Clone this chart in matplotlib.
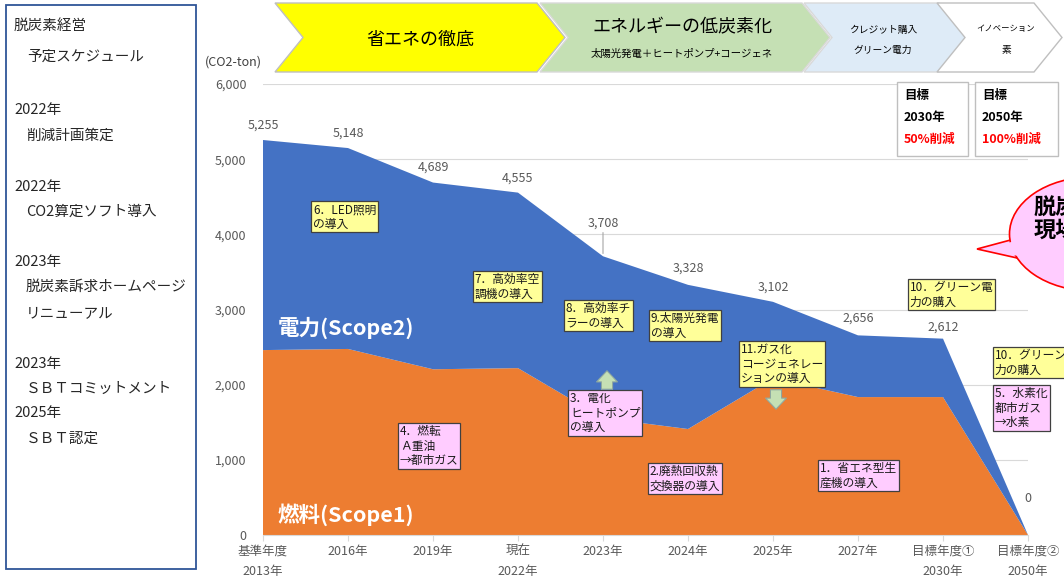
import numpy as np
import matplotlib.pyplot as plt
from matplotlib.patches import Polygon, Rectangle, Ellipse, FancyArrowPatch

plt.rcParams['font.family'] = ['Noto Sans CJK JP', 'DejaVu Sans']

# --- data (CO2-ton) ---
categories = ['基準年度\n2013年', '2016年', '2019年', '現在\n2022年', '2023年',
              '2024年', '2025年', '2027年', '目標年度①\n2030年', '目標年度②\n2050年']
totals = np.array([5255, 5148, 4689, 4555, 3708, 3328, 3102, 2656, 2612, 0])
scope1 = np.array([2460, 2475, 2205, 2220, 1555, 1410, 2085, 1835, 1835, 0])  # fuel
scope2 = totals - scope1  # electricity
label_dy_px = [15, 15, 15, 14, 33, 17, 15, 17, 12, 37]

schedule = [('脱炭素経営', 14, 26), ('予定スケジュール', 27, 57),
            ('2022年', 14, 110), ('削減計画策定', 26, 136),
            ('2022年', 14, 187), ('CO2算定ソフト導入', 26, 212),
            ('2023年', 14, 262), ('脱炭素訴求ホームページ', 26, 287),
            ('リニューアル', 26, 313),
            ('2023年', 14, 364), ('ＳＢＴコミットメント', 26, 389),
            ('2025年', 14, 413), ('ＳＢＴ認定', 26, 439)]

# measures: (text, x category, y value of top-left, colour)
YEL, PNK = '#FFFF99', '#FFCCFF'
measures = [('6．LED照明\nの導入', 0.59, 4415, YEL),
            ('7．高効率空\n調機の導入', 2.49, 3484, YEL),
            ('8．高効率チ\nラーの導入', 3.56, 3098, YEL),
            ('9.太陽光発電\nの導入', 4.56, 2965, YEL),
            ('11.ガス化\nコージェネレー\nションの導入', 5.62, 2553, YEL),
            ('10．グリーン電\n力の購入', 7.61, 3378, YEL),
            ('10．グリーン電\n力の購入', 8.61, 2473, YEL),
            ('3．電化\nヒートポンプ\nの導入', 3.61, 1902, PNK),
            ('4．燃転\nＡ重油\n→都市ガス', 1.61, 1463, PNK),
            ('2.廃熱回収熱\n交換器の導入', 4.55, 931, PNK),
            ('1．省エネ型生\n産機の導入', 6.55, 971, PNK),
            ('5．水素化\n都市ガス\n→水素', 8.61, 1968, PNK)]

W, H = 1064, 579
fig = plt.figure(figsize=(W / 100, H / 100), dpi=100)


def fx(x):
    return x / W


def fy(y):
    return 1 - y / H


# --- main chart ---
ax = fig.add_axes([fx(263), fy(535), fx(1028) - fx(263), fy(84) - fy(535)])
x = np.arange(len(categories))
ax.stackplot(x, scope1, scope2, colors=['#ED7D31', '#4472C4'], zorder=2)
ax.set_xlim(0, len(categories) - 1)
ax.set_ylim(0, 6000)
ax.set_yticks(np.arange(0, 6001, 1000))
ax.set_yticklabels([f'{v:,}' for v in range(0, 6001, 1000)])
ax.grid(axis='y', color='#D9D9D9', lw=0.8, zorder=0)
ax.set_xticks(x)
ax.set_xticklabels(categories, linespacing=1.75)
for s in ['top', 'right', 'left']:
    ax.spines[s].set_visible(False)
ax.spines['bottom'].set_color('#D9D9D9')
ax.tick_params(axis='y', length=0, labelsize=9, labelcolor='#595959', pad=12)
ax.tick_params(axis='x', length=4, color='#D9D9D9', labelsize=9,
               labelcolor='#595959', pad=3)

# data labels
for i, v in enumerate(totals):
    kw = {}
    if v == 3708:
        kw['arrowprops'] = dict(arrowstyle='-', color='#A6A6A6', lw=0.8,
                                shrinkA=0, shrinkB=2)
    ax.annotate(f'{v:,}', (i, v), xytext=(0, label_dy_px[i] * 0.72),
                textcoords='offset points', ha='center', va='center',
                fontsize=9, color='#595959', **kw)

fig.text(fx(262), fy(62), '(CO2-ton)', ha='right', va='center',
         fontsize=9, color='#404040')

ax.text(0.17, 2750, '電力(Scope2)', color='white', fontsize=15.5,
        fontweight='bold', va='center', zorder=4)
ax.text(0.17, 270, '燃料(Scope1)', color='white', fontsize=15.5,
        fontweight='bold', va='center', zorder=4)

for txt, mx, my, col in measures:
    ax.text(mx, my, txt, ha='left', va='top', fontsize=8.5, color='#1A1A1A',
            linespacing=1.15, zorder=5, clip_on=False,
            bbox=dict(boxstyle='square,pad=0.15', fc=col, ec='#404040', lw=0.9))

# block arrows
for y0, y1, xc in [(392, 368, 607), (387, 412, 776)]:
    fig.patches.append(FancyArrowPatch(
        (fx(xc), fy(y0)), (fx(xc), fy(y1)), transform=fig.transFigure,
        arrowstyle='simple,head_width=15,head_length=8,tail_width=8',
        fc='#C5E0B4', ec='#8FA8A0', lw=0.8, zorder=6, mutation_scale=1))

# --- left schedule panel ---
fig.patches.append(Rectangle((fx(6), fy(569)), fx(190), fy(5) - fy(569),
                             transform=fig.transFigure, fill=False,
                             ec='#2F5597', lw=1.3))
for txt, tx, ty in schedule:
    fig.text(fx(tx), fy(ty), txt, ha='left', va='center', fontsize=10.5,
             color='#262626')

# --- top banner chevrons ---
top, bot, mid, d = 3, 72, 37.5, 28
chevrons = [(275, 565, '#FFFF00', '#BFBFBF'), (540, 830, '#C5E0B4', '#D9D9D9'),
            (804, 967, '#DEEBF7', '#D9D9D9'), (937, 1062, '#FFFFFF', '#BFBFBF')]
for xl, xt, fc, ec in chevrons:
    pts = [(xl, top), (xt - d, top), (xt, mid), (xt - d, bot), (xl, bot), (xl + d, mid)]
    fig.patches.append(Polygon([(fx(a), fy(b)) for a, b in pts], closed=True,
                               transform=fig.transFigure, fc=fc, ec=ec, lw=1))
fig.text(fx(420), fy(40), '省エネの徹底', ha='center', va='center', fontsize=13)
fig.text(fx(682), fy(27), 'エネルギーの低炭素化', ha='center', va='center', fontsize=13)
fig.text(fx(682), fy(54), '太陽光発電＋ヒートポンプ+コージェネ', ha='center',
         va='center', fontsize=7.5)
fig.text(fx(883), fy(30), 'クレジット購入', ha='center', va='center', fontsize=7)
fig.text(fx(883), fy(50), 'グリーン電力', ha='center', va='center', fontsize=7)
fig.text(fx(1006), fy(29), 'イノベーション', ha='center', va='center', fontsize=6)
fig.text(fx(1006), fy(50), '素', ha='center', va='center', fontsize=7)

# --- target boxes ---
for bx, yr, pct in [(897, '2030年', '50%削減'), (975, '2050年', '100%削減')]:
    fig.patches.append(Rectangle((fx(bx), fy(156)), fx(83 if bx == 975 else 71),
                                 fy(82) - fy(156), transform=fig.transFigure,
                                 fc='white', ec='#BFBFBF', lw=1, zorder=3))
    fig.text(fx(bx + 7), fy(96), '目標', fontsize=9, fontweight='bold', va='center')
    fig.text(fx(bx + 7), fy(117), yr, fontsize=9, fontweight='bold', va='center')
    fig.text(fx(bx + 7), fy(139), pct, fontsize=9, fontweight='bold',
             va='center', color='#FF0000')

# --- speech bubble (cut at right edge) ---
tail = Polygon([(fx(1018), fy(238)), (fx(977), fy(249)), (fx(1035), fy(262))],
               closed=True, transform=fig.transFigure, fc='#FFCCFF', ec='#FF0000',
               lw=1.2, zorder=7)
fig.patches.append(tail)
fig.patches.append(Ellipse((fx(1092), fy(234)), fx(165), fy(178) - fy(292),
                           transform=fig.transFigure, fc='#FFCCFF', ec='#FF0000',
                           lw=1.2, zorder=8))
fig.patches.append(Polygon([(fx(1019), fy(240)), (fx(984), fy(249)), (fx(1033), fy(259))],
                           closed=True, transform=fig.transFigure, fc='#FFCCFF',
                           ec='none', zorder=9))
fig.text(fx(1034), fy(219), '脱炭素\n現場', fontsize=16, fontweight='bold',
         va='center', ha='left', linespacing=0.95, zorder=10)

fig.savefig('out.png', dpi=100)
